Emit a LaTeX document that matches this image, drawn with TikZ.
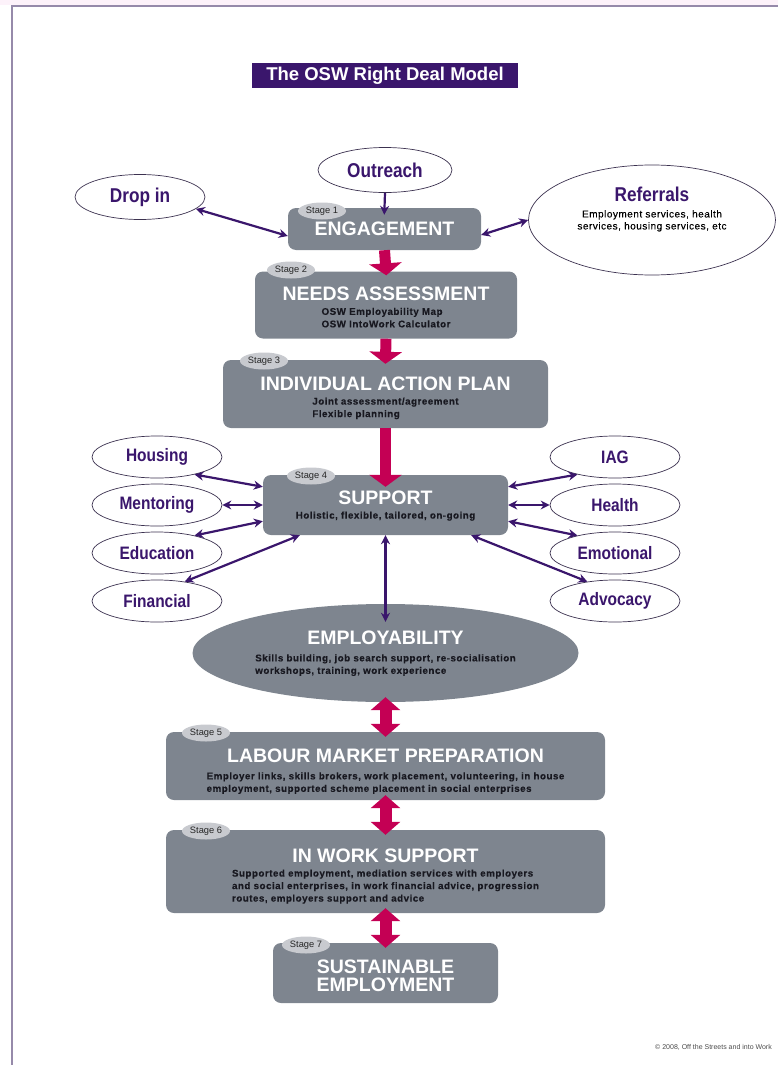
\documentclass[tikz,border=0pt]{standalone}
\usepackage{fontspec}
\setmainfont{Liberation Sans}
\newfontfamily\condfam[FakeStretch=0.86]{Liberation Sans}
\newfontfamily\subfam[LetterSpace=5,FakeBold=0.15]{Liberation Sans}
\usetikzlibrary{shapes.geometric,arrows.meta}
\definecolor{oswpurple}{RGB}{58,22,108}
\definecolor{oswred}{RGB}{196,0,84}
\definecolor{boxgray}{RGB}{126,133,143}
\definecolor{taggray}{RGB}{200,202,207}
\definecolor{ovalline}{RGB}{60,50,80}
\definecolor{subtextc}{RGB}{24,24,32}
\definecolor{framec}{RGB}{150,138,170}
\definecolor{topband}{RGB}{253,242,250}
\newcommand\titlefont{\bfseries\fontsize{19.5}{16}\selectfont}
\newcommand\ovalfont{\condfam\bfseries\fontsize{18}{20}\selectfont}
\newcommand\tagfont{\fontsize{9.3}{10}\selectfont}
\newcommand\headstrut[1]{\rule{0pt}{#1}}
\newcommand\subtext[1]{{\subfam\fontsize{9.8}{12.5}\selectfont\color{subtextc}\begin{tabular}[t]{@{}l@{}}#1\end{tabular}}}

\begin{document}
\begin{tikzpicture}[x=1pt, y=-1pt,
  stagebox/.style={fill=boxgray, rounded corners=8pt, align=center,
                   inner sep=0pt, text=white, font=\titlefont},
  tag/.style={ellipse, fill=taggray, inner sep=0pt, minimum width=48pt,
              minimum height=17pt, font=\tagfont, text=black!85},
  oval/.style={ellipse, draw=ovalline, line width=0.7pt, fill=white,
               inner sep=0pt, minimum width=130pt, minimum height=42pt,
               text=oswpurple, font=\ovalfont},
  link/.style={{Stealth[length=9pt,width=9pt]}-{Stealth[length=9pt,width=9pt]},
               line width=2.2pt, oswpurple},
  feed/.style={-{Stealth[length=9pt,width=9pt]}, line width=2.2pt, oswpurple},
  flow/.style={-{Triangle[length=12pt,width=32pt]}, line width=11pt, oswred},
  swap/.style={{Triangle[length=13pt,width=29pt]}-{Triangle[length=13pt,width=29pt]},
               line width=12pt, oswred}
]
  \useasboundingbox (0,0) rectangle (778,1065);
  \fill[topband] (0,0) rectangle (778,5);
  \draw[framec, line width=1.5pt] (12,1065) -- (12,6) -- (778,6);

  \node[fill=oswpurple, text=white, font=\bfseries\fontsize{18.5}{19}\selectfont,
        minimum width=266pt, minimum height=25pt, inner sep=0pt]
       (title) at (385,75.5) {The OSW Right Deal Model};

  % entry points
  \node[oval, minimum width=134pt, minimum height=45pt, font=\condfam\bfseries\fontsize{20}{20}\selectfont]
       (out) at (385,170) {Outreach};
  \node[oval, minimum width=130pt, minimum height=45pt, font=\condfam\bfseries\fontsize{20}{20}\selectfont]
       (drop) at (140,197) {Drop in};
  \node[oval, minimum width=247pt, minimum height=110pt] (ref) at (652,220) {};
  \node[inner sep=0pt] (reftext) at (652,210)
       {\begin{tabular}{@{}c@{}}
        {\condfam\bfseries\fontsize{20}{20}\selectfont\color{oswpurple}Referrals}\\[4pt]
        {\subfam\fontsize{10}{12}\selectfont Employment services, health}\\
        {\subfam\fontsize{10}{12}\selectfont services, housing services, etc}
        \end{tabular}};

  % stages
  \node[stagebox, minimum width=193pt, minimum height=42pt] (eng) at (384.5,229)
       {\raisebox{-4pt}{ENGAGEMENT}};
  \node[stagebox, minimum width=262pt, minimum height=67pt] (need) at (386,305)
       {\headstrut{22pt}NEEDS ASSESSMENT\\[-2pt]
        \subtext{OSW Employability Map\\ OSW IntoWork Calculator}};
  \node[stagebox, minimum width=325pt, minimum height=68pt] (plan) at (385.5,394)
       {\headstrut{23pt}INDIVIDUAL ACTION PLAN\\[-1.5pt]
        \subtext{Joint assessment/agreement\\ Flexible planning}};
  \node[stagebox, minimum width=245pt, minimum height=60pt] (sup) at (385.5,505)
       {\headstrut{17pt}SUPPORT\\[-2pt]
        \subtext{Holistic, flexible, tailored, on-going}};
  \node[ellipse, fill=boxgray, text=white, align=center, inner sep=0pt,
        font=\titlefont, minimum width=386pt, minimum height=98pt] (emp) at (385.5,653)
       {\headstrut{16pt}EMPLOYABILITY\\[1pt]
        \subtext{Skills building, job search support, re-socialisation\\
                 workshops, training, work experience}};
  \node[stagebox, minimum width=439pt, minimum height=68pt] (lab) at (385.5,766)
       {\headstrut{26pt}LABOUR MARKET PREPARATION\\[1pt]
        \subtext{Employer links, skills brokers, work placement, volunteering, in house\\
                 employment, supported scheme placement in social enterprises}};
  \node[stagebox, minimum width=439pt, minimum height=83pt] (work) at (385.5,871.5)
       {\headstrut{25pt}IN WORK SUPPORT\\[-2pt]
        \subtext{Supported employment, mediation services with employers\\
                 and social enterprises, in work financial advice, progression\\
                 routes, employers support and advice}};
  \node[stagebox, minimum width=225pt, minimum height=60pt] (sust) at (385.5,973)
       {\headstrut{19pt}SUSTAINABLE\\[2pt] EMPLOYMENT};

  % stage tags
  \node[tag] (s1) at (322,211) {Stage 1};
  \node[tag] (s2) at (291,270) {Stage 2};
  \node[tag] (s3) at (264,361) {Stage 3};
  \node[tag] (s4) at (311,476) {Stage 4};
  \node[tag] (s5) at (206,733) {Stage 5};
  \node[tag] (s6) at (206,831) {Stage 6};
  \node[tag] (s7) at (306,945) {Stage 7};

  % support options
  \node[oval] (hou) at (157,457) {Housing};
  \node[oval] (men) at (157,505) {Mentoring};
  \node[oval] (edu) at (157,553) {Education};
  \node[oval] (fin) at (157,601) {Financial};
  \node[oval] (iag) at (615,457) {IAG};
  \node[oval] (hea) at (615,505) {Health};
  \node[oval] (emo) at (615,553) {Emotional};
  \node[oval] (adv) at (615,601) {Advocacy};

  % purple links
  \draw[link] (drop.-12) -- ([yshift=-7pt]eng.west);
  \draw[link] (ref.west) -- ([yshift=-6pt]eng.east);
  \draw[feed, shorten >=-7pt] (out.south) -- (eng.north);
  \draw[link] (hou.-25) -- ([yshift=-12pt]sup.north west);
  \draw[link] (men.east) -- (sup.west);
  \draw[link] (edu.25) -- ([yshift=14pt]sup.south west);
  \draw[link] (fin.35) -- ([xshift=37pt]sup.south west);
  \draw[link] (iag.205) -- ([yshift=-12pt]sup.north east);
  \draw[link] (hea.west) -- (sup.east);
  \draw[link] (emo.155) -- ([yshift=14pt]sup.south east);
  \draw[link] (adv.145) -- ([xshift=-37pt]sup.south east);
  \draw[link, shorten >=-18pt] (sup.south) -- (emp.north);

  % red flow
  \draw[flow, shorten >=-4pt] (eng.south) -- (need.north);
  \draw[flow, shorten >=-4pt] (need.south) -- (plan.north);
  \draw[flow, shorten >=-12pt] (plan.south) -- (sup.north);
  \draw[swap, shorten <=-5pt, shorten >=-5pt] (emp.south) -- (lab.north);
  \draw[swap, shorten <=-5pt, shorten >=-5pt] (lab.south) -- (work.north);
  \draw[swap, shorten <=-5pt, shorten >=-5pt] (work.south) -- (sust.north);

  \node[anchor=east, font=\fontsize{7}{8}\selectfont, text=black!70, inner sep=0pt]
       (copy) at (772,1047) {\textcopyright\ 2008, Off the Streets and into Work};
\end{tikzpicture}
\end{document}
